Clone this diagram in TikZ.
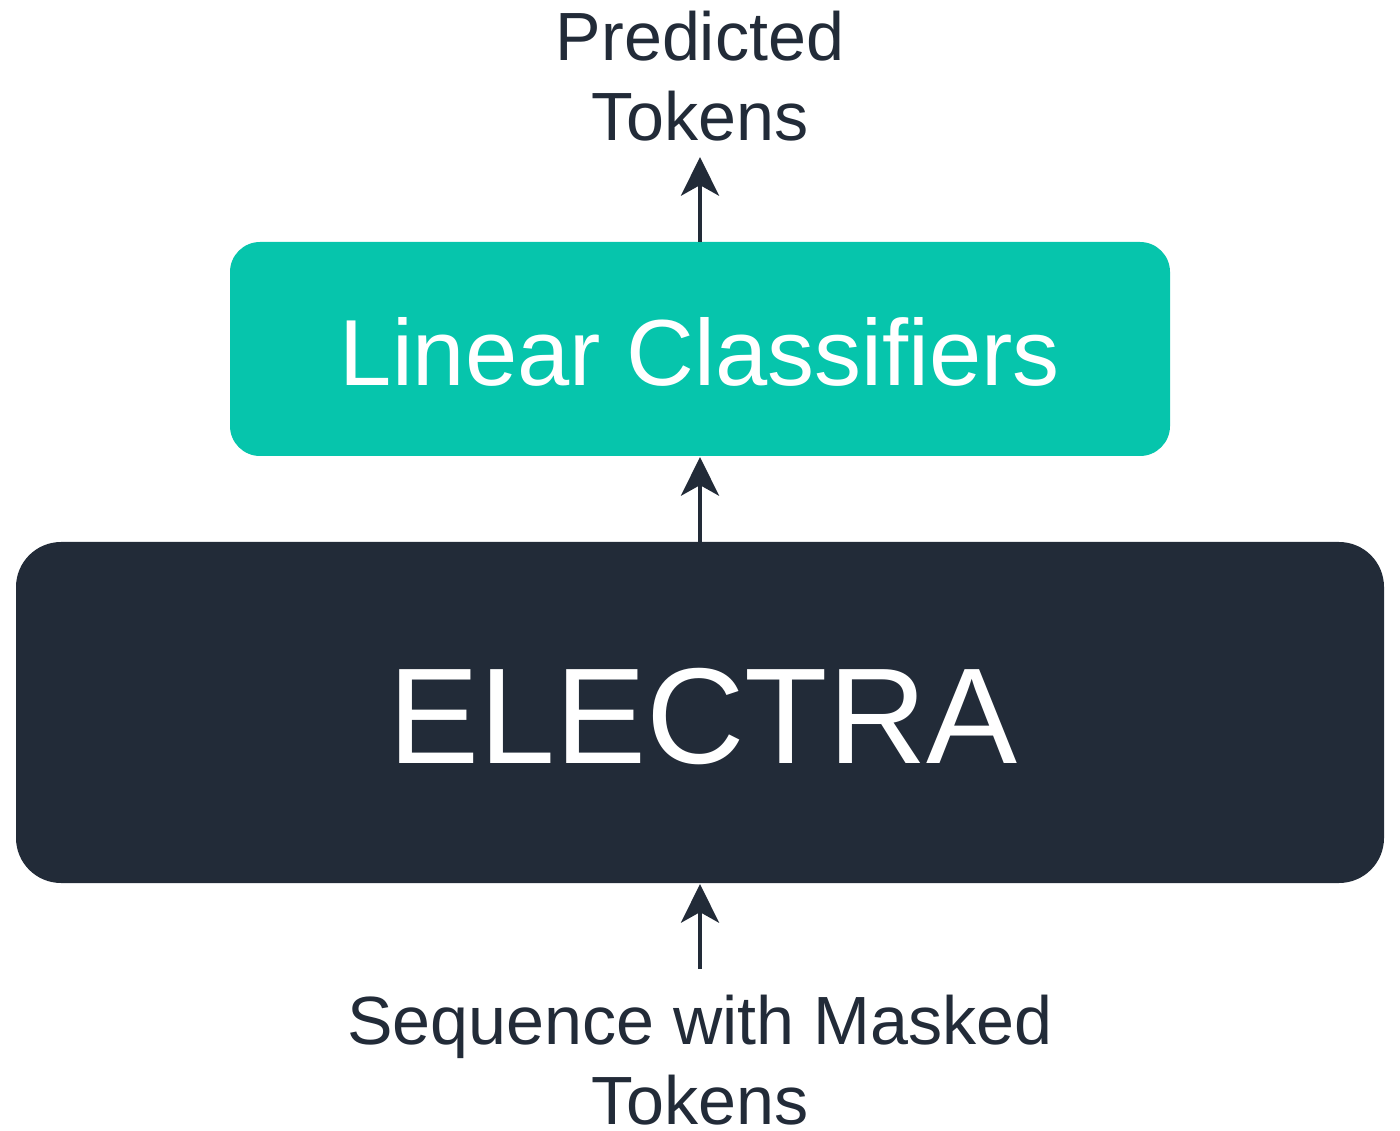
\documentclass[tikz,border=0pt]{standalone}
\usepackage{fontspec}
\setmainfont{Liberation Sans}
\usetikzlibrary{arrows.meta}
\definecolor{darkbg}{HTML}{222B38}
\definecolor{teal}{HTML}{06C5AC}
\tikzset{
  arr/.style={draw=darkbg, line width=1.14pt, -{Stealth[length=11pt, width=10.8pt, inset=3pt]}},
  lbl/.style={text=darkbg, font=\fontsize{19.4}{22.8}\selectfont, align=center, inner sep=0pt}
}
\begin{document}
\begin{tikzpicture}[x=0.01cm,y=-0.01cm]
\useasboundingbox (0,0) rectangle (1400,1131);
\fill[teal, rounded corners=0.3cm] (230,242) rectangle (1170,456);
\node[inner sep=0pt, text=white, font=\fontsize{26.7}{30}\selectfont] (lc) at (700,352) {Linear Classifiers};
\coordinate (lcTop) at (700,242);
\coordinate (lcBot) at (700,457);
\fill[darkbg, rounded corners=0.45cm] (16,542) rectangle (1384,883);
\node[inner sep=0pt, text=white, font=\fontsize{38.8}{44}\selectfont] (el) at (703,717) {ELECTRA};
\coordinate (elTop) at (700,542);
\coordinate (elBot) at (700,884);
\node[lbl] (pt) at (700,76) {Predicted\\Tokens};
\coordinate (ptBot) at (700,157);
\node[lbl] (seq) at (700,1060) {Sequence with Masked\\Tokens};
\coordinate (seqTop) at (700,969);
\draw[arr] (lcTop) -- (ptBot);
\draw[arr] (elTop) -- (lcBot);
\draw[arr] (seqTop) -- (elBot);
\end{tikzpicture}
\end{document}
